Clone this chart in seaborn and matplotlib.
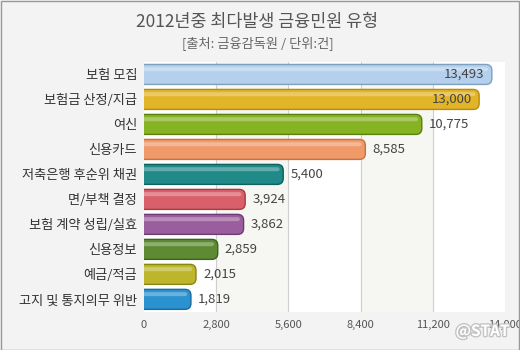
import numpy as np
import pandas as pd
import matplotlib
matplotlib.use("Agg")
import matplotlib.pyplot as plt
import matplotlib.patheffects as pe
from matplotlib.patches import FancyBboxPatch
import seaborn as sns

categories = ["보험 모집", "보험금 산정/지급", "여신", "신용카드", "저축은행 후순위 채권",
              "면/부책 결정", "보험 계약 성립/실효", "신용정보", "예금/적금", "고지 및 통지의무 위반"]
values = [13493, 13000, 10775, 8585, 5400, 3924, 3862, 2859, 2015, 1819]
colors = ["#b4d0ec", "#e2b428", "#86b322", "#ef9a68", "#1f8a88",
          "#d9606a", "#9a5e9e", "#5e8a34", "#bdb52c", "#2a92d0"]
edge_colors = ["#7f9fbf", "#b88a10", "#5a8010", "#c87040", "#106060",
               "#a83a44", "#6e3a72", "#3e6020", "#8a8410", "#1a6aa0"]
xticks = [0, 2800, 5600, 8400, 11200, 14000]
title = "2012년중 최다발생 금융민원 유형"
subtitle = "[출처: 금융감독원 / 단위:건]"

df = pd.DataFrame({"category": categories, "value": values})

sns.set_theme(style="white")
plt.rcParams["font.family"] = ["Noto Sans CJK KR", "DejaVu Sans"]

fig = plt.figure(figsize=(5.2, 3.5), dpi=100, facecolor="#f3f3f3")
ax = fig.add_axes([0.277, 0.109, 0.694, 0.714])
ax.set_facecolor("white")

sns.barplot(data=df, x="value", y="category", hue="category", palette=colors,
            legend=False, width=0.8, ax=ax, saturation=1)

ax.set_xlim(0, 14000)
ax.set_ylim(9.5, -0.5)

# data units per pixel, to keep rounded ends circular
ax_w_px = 0.694 * 520
ax_h_px = 0.714 * 350
ux = 14000 / ax_w_px
uy = 10 / ax_h_px
aspect = uy / ux

for p, c, ec in zip(list(ax.patches), colors, edge_colors):
    x0, y0 = p.get_x(), p.get_y()
    w, h = p.get_width(), p.get_height()
    p.set_visible(False)
    r = 6 * ux
    ext = 2 * r
    fb = FancyBboxPatch((x0 - ext, y0), w + ext, h,
                        boxstyle=f"round,pad=0,rounding_size={r}",
                        mutation_aspect=aspect, facecolor=c, edgecolor=ec,
                        linewidth=1.0, zorder=3)
    ax.add_patch(fb)
    # glossy highlight near top
    hl = FancyBboxPatch((x0 - ext, y0 + h * 0.14), w + ext - r * 0.6, h * 0.2,
                        boxstyle=f"round,pad=0,rounding_size={r * 0.4}",
                        mutation_aspect=aspect, facecolor="white",
                        edgecolor="none", alpha=0.3, zorder=4)
    ax.add_patch(hl)

ax.set_xticks(xticks)
ax.set_xticklabels([f"{t:,}" for t in xticks], fontsize=8, color="#555555")
ax.tick_params(axis="y", labelsize=9.5, colors="#333333", length=0, pad=5)
ax.tick_params(axis="x", length=0, pad=6)
ax.set_xlabel("")
ax.set_ylabel("")
for s in ax.spines.values():
    s.set_visible(False)

# alternating bands and grid
for i in range(len(xticks) - 1):
    if i % 2 == 1:
        ax.axvspan(xticks[i], xticks[i + 1], color="#f6f6f2", zorder=0)
for t in xticks[1:-1]:
    ax.axvline(t, color="#cfcfcf", lw=0.8, zorder=1)

for i, v in enumerate(values):
    lab = f"{v:,}"
    if v > 12000:
        ax.text(v - 280, i, lab, ha="right", va="center", fontsize=9.5,
                color="#444444", zorder=5)
    else:
        ax.text(v + 280, i, lab, ha="left", va="center", fontsize=9.5,
                color="#444444", zorder=5)

fig.text(0.495, 0.937, title, ha="center", va="center", fontsize=12.5, color="#555555")
fig.text(0.495, 0.878, subtitle, ha="center", va="center", fontsize=9.5, color="#666666")

fig.text(0.928, 0.052, "@STAT", ha="center", va="center", fontsize=11, color="white",
         fontweight="bold",
         path_effects=[pe.withStroke(linewidth=2, foreground="#c4c4c4")], zorder=10)

border = plt.Rectangle((0.001, 0.001), 0.997, 0.996, transform=fig.transFigure,
                       fill=False, edgecolor="#999999", lw=1)
fig.patches.append(border)

fig.savefig("out.png", dpi=100, facecolor=fig.get_facecolor())
